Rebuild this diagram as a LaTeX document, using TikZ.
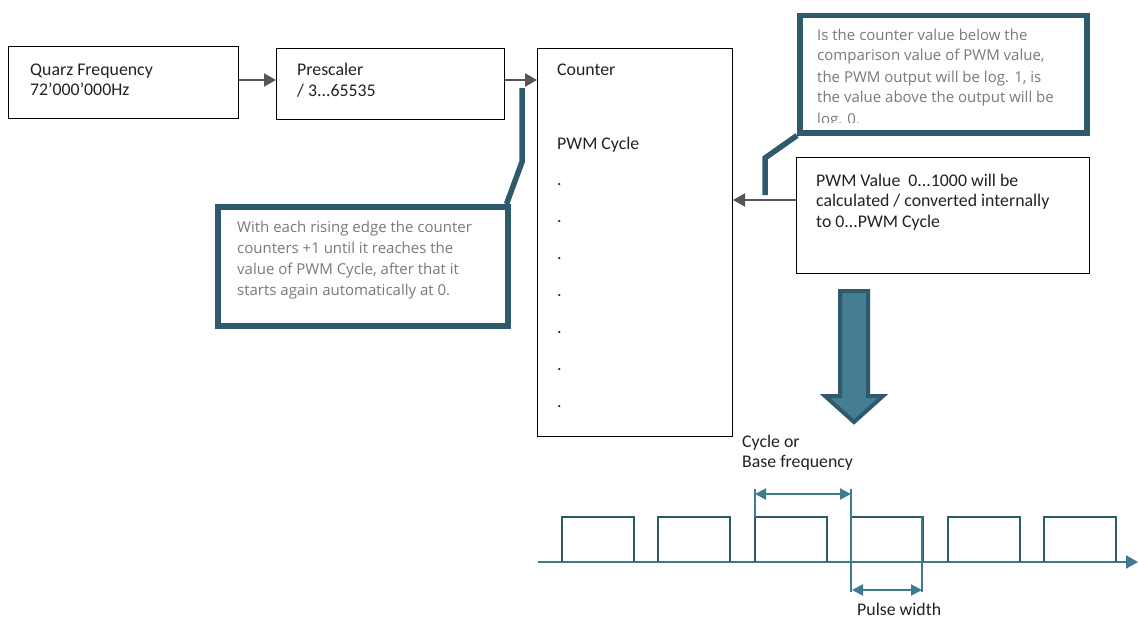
\documentclass[tikz,border=0pt]{standalone}
\usepackage{fontspec}
\setmainfont{Carlito}
\newfontfamily\callfont{Open Sans}
\usetikzlibrary{arrows.meta}
\definecolor{tealdark}{HTML}{2F5A6B}
\definecolor{tealfill}{HTML}{457E93}
\definecolor{wave}{HTML}{3E7B8F}
\definecolor{graytxt}{HTML}{7A7A7A}
\definecolor{arrowgray}{HTML}{555555}
\definecolor{txt}{HTML}{222222}
\tikzset{
  box/.style={draw=black, line width=1pt, inner sep=0pt},
  callout/.style={draw=tealdark, line width=5.5pt, inner sep=0pt},
  leader/.style={draw=tealdark, line width=5.5pt},
  garrow/.style={draw=arrowgray, line width=2pt, -{Triangle[length=12pt,width=13pt]}},
  lbl/.style={anchor=base west, inner sep=0pt, align=left, text=txt, font=\fontsize{17.8}{20.7}\selectfont},
  clbl/.style={anchor=base west, inner sep=0pt, align=left, text=graytxt, font=\callfont\fontsize{15}{21}\selectfont},
  wavel/.style={draw=wave, line width=2pt},
  pulse/.style={draw=tealdark, line width=2pt},
  dim/.style={draw=wave, line width=2pt, {Triangle[length=11pt,width=11pt]}-{Triangle[length=11pt,width=11pt]}},
}
\begin{document}
\begin{tikzpicture}[x=1pt,y=-1pt]
\useasboundingbox (0,0) rectangle (1138,618);
\fill[white] (0,0) rectangle (1138,618);

% main boxes
\node[box, minimum width=230pt, minimum height=72pt, anchor=north west] (qz) at (8,46) {};
\node[box, minimum width=228pt, minimum height=71pt, anchor=north west] (ps) at (276,48) {};
\node[box, minimum width=195pt, minimum height=388pt, anchor=north west] (ct) at (537,48) {};
\node[box, minimum width=293pt, minimum height=116pt, anchor=north west] (pv) at (796,157) {};

% multi-line labels: anchor is the baseline of the last line
\node[lbl] (qzt) at (30,95.7) {Quarz Frequency\\72'000'000Hz};
\node[lbl] (pst) at (297,96.7) {Prescaler\\/ 3...65535};
\node[lbl] (ctt) at (557,76) {Counter};
\node[lbl] (ctc) at (557,149) {PWM Cycle};
\foreach \i/\yy in {1/185,2/222,3/259,4/296,5/333,6/370,7/407}
  \node[lbl] (dot\i) at (557,\yy) {.};
\node[lbl] (pvt) at (816,227.4) {PWM Value\ \ 0...1000 will be\\calculated / converted internally\\to 0...PWM Cycle};

% arrows
\draw[garrow] (qz.east |- 0,80) -- (ps.west |- 0,80);
\draw[garrow] (ps.east |- 0,80) -- (ct.west |- 0,80);
\draw[garrow] (pv.west |- 0,200) -- (ct.east |- 0,200);

% callout 1
\node[callout, minimum width=287pt, minimum height=117pt, anchor=north west] (c1) at (797,13) {};
\begin{scope}
\clip (800,16) rectangle (1081,122);
\node[clbl] (c1t) at (817,124) {Is the counter value below the\\comparison value of PWM value,\\the PWM output will be log. 1, is\\the value above the output will be\\log. 0.};
\end{scope}
\coordinate (l1a) at (765,158);
\coordinate (l1b) at (765,195);
\draw[leader] (c1.south west) -- (l1a) -- (l1b);

% callout 2
\node[callout, minimum width=290pt, minimum height=119pt, anchor=north west] (c2) at (215,204) {};
\node[clbl] (c2t) at (237,295) {With each rising edge the counter\\counters +1 until it reaches the\\value of PWM Cycle, after that it\\starts again automatically at 0.};
\coordinate (l2a) at (522,162);
\coordinate (l2b) at (522,88);
\draw[leader] ([xshift=-4pt]c2.north east) -- (l2a) -- (l2b);

% big arrow
\draw[fill=tealfill, draw=tealdark, line width=4pt, line join=miter]
  (840,291) -- (868,291) -- (868,396) -- (883,396) -- (854,422) -- (825,396) -- (840,396) -- cycle;

% waveform
\coordinate (w0) at (538,562);
\coordinate (w1) at (1138,562);
\draw[wavel, -{Triangle[length=12pt,width=13pt]}] (w0) -- (w1);
\foreach \xx in {562,658,755,851,948,1044}
  \draw[pulse] (\xx,562) -- (\xx,517) -- (\xx+72,517) -- (\xx+72,562);

% dimensions
\coordinate (ca) at (755,489);
\coordinate (cb) at (851,489);
\draw[wave, line width=1.5pt] (ca) -- (755,517);
\draw[wave, line width=1.5pt] (cb) -- (851,592);
\draw[wave, line width=1.5pt] (922,517) -- (922,592);
\draw[dim] (755,494) -- (851,494);
\draw[dim] (852,590) -- (922,590);

\node[lbl] (cyc) at (742,467.7) {Cycle or\\Base frequency};
\node[lbl] (pw) at (857,615) {Pulse width};
\end{tikzpicture}
\end{document}
